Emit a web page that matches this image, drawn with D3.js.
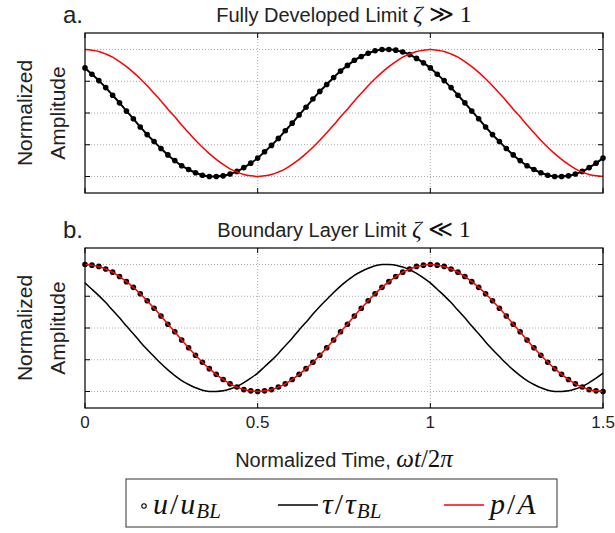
<!DOCTYPE html>
<html>
<head>
<meta charset="utf-8">
<script src="https://cdn.jsdelivr.net/npm/d3@7"></script>
<style>
  body { margin: 0; background: #fff; }
  svg { display: block; }
  .sans { font-family: "Liberation Sans", Arial, Helvetica, sans-serif; fill: #222; }
  .math { font-family: "Liberation Serif", "DejaVu Serif", serif; fill: #111; }
</style>
</head>
<body>
<script>
// time samples, omega t / 2 pi
const timeVals = [0, 0.02, 0.04, 0.06, 0.08, 0.1, 0.12, 0.14, 0.16, 0.18, 0.2, 0.22, 0.24, 0.26, 0.28, 0.3, 0.32, 0.34, 0.36, 0.38,
  0.4, 0.42, 0.44, 0.46, 0.48, 0.5, 0.52, 0.54, 0.56, 0.58, 0.6, 0.62, 0.64, 0.66, 0.68, 0.7, 0.72, 0.74, 0.76, 0.78,
  0.8, 0.82, 0.84, 0.86, 0.88, 0.9, 0.92, 0.94, 0.96, 0.98, 1, 1.02, 1.04, 1.06, 1.08, 1.1, 1.12, 1.14, 1.16, 1.18,
  1.2, 1.22, 1.24, 1.26, 1.28, 1.3, 1.32, 1.34, 1.36, 1.38, 1.4, 1.42, 1.44, 1.46, 1.48, 1.5];

// p/A (red, both panels)
const pressure = [1.00, 0.99, 0.97, 0.93, 0.88, 0.81, 0.73, 0.64, 0.54, 0.43, 0.31, 0.19, 0.06, -0.06, -0.19, -0.31, -0.43, -0.54, -0.64, -0.73,
  -0.81, -0.88, -0.93, -0.97, -0.99, -1.00, -0.99, -0.97, -0.93, -0.88, -0.81, -0.73, -0.64, -0.54, -0.43, -0.31, -0.19, -0.06, 0.06, 0.19,
  0.31, 0.43, 0.54, 0.64, 0.73, 0.81, 0.88, 0.93, 0.97, 0.99, 1.00, 0.99, 0.97, 0.93, 0.88, 0.81, 0.73, 0.64, 0.54, 0.43,
  0.31, 0.19, 0.06, -0.06, -0.19, -0.31, -0.43, -0.54, -0.64, -0.73, -0.81, -0.88, -0.93, -0.97, -0.99, -1.00];

// u/u_BL, fully developed limit (panel a dots)
const velocityFD = [0.71, 0.61, 0.51, 0.40, 0.28, 0.16, 0.03, -0.09, -0.22, -0.34, -0.45, -0.56, -0.66, -0.75, -0.83, -0.89, -0.94, -0.98, -1.00, -1.00,
  -0.99, -0.96, -0.92, -0.86, -0.79, -0.71, -0.61, -0.51, -0.40, -0.28, -0.16, -0.03, 0.09, 0.22, 0.34, 0.45, 0.56, 0.66, 0.75, 0.83,
  0.89, 0.94, 0.98, 1.00, 1.00, 0.99, 0.96, 0.92, 0.86, 0.79, 0.71, 0.61, 0.51, 0.40, 0.28, 0.16, 0.03, -0.09, -0.22, -0.34,
  -0.45, -0.56, -0.66, -0.75, -0.83, -0.89, -0.94, -0.98, -1.00, -1.00, -0.99, -0.96, -0.92, -0.86, -0.79, -0.71];

// u/u_BL, boundary layer limit (panel b dots)
const velocityBL = [1.00, 0.99, 0.97, 0.93, 0.88, 0.81, 0.73, 0.64, 0.54, 0.43, 0.31, 0.19, 0.06, -0.06, -0.19, -0.31, -0.43, -0.54, -0.64, -0.73,
  -0.81, -0.88, -0.93, -0.97, -0.99, -1.00, -0.99, -0.97, -0.93, -0.88, -0.81, -0.73, -0.64, -0.54, -0.43, -0.31, -0.19, -0.06, 0.06, 0.19,
  0.31, 0.43, 0.54, 0.64, 0.73, 0.81, 0.88, 0.93, 0.97, 0.99, 1.00, 0.99, 0.97, 0.93, 0.88, 0.81, 0.73, 0.64, 0.54, 0.43,
  0.31, 0.19, 0.06, -0.06, -0.19, -0.31, -0.43, -0.54, -0.64, -0.73, -0.81, -0.88, -0.93, -0.97, -0.99, -1.00];

// tau/tau_BL, boundary layer limit (panel b black line)
const shearBL = [0.71, 0.61, 0.51, 0.40, 0.28, 0.16, 0.03, -0.09, -0.22, -0.34, -0.45, -0.56, -0.66, -0.75, -0.83, -0.89, -0.94, -0.98, -1.00, -1.00,
  -0.99, -0.96, -0.92, -0.86, -0.79, -0.71, -0.61, -0.51, -0.40, -0.28, -0.16, -0.03, 0.09, 0.22, 0.34, 0.45, 0.56, 0.66, 0.75, 0.83,
  0.89, 0.94, 0.98, 1.00, 1.00, 0.99, 0.96, 0.92, 0.86, 0.79, 0.71, 0.61, 0.51, 0.40, 0.28, 0.16, 0.03, -0.09, -0.22, -0.34,
  -0.45, -0.56, -0.66, -0.75, -0.83, -0.89, -0.94, -0.98, -1.00, -1.00, -0.99, -0.96, -0.92, -0.86, -0.79, -0.71];

const xTicks = [0, 0.5, 1, 1.5];
const xTickLabels = ['0', '0.5', '1', '1.5'];
const yTicks = [-1, -0.5, 0, 0.5, 1];

const width = 615, height = 533;
const plotLeft = 85, plotWidth = 518, plotHeight = 160;

const panels = [
  { tag: 'a.', title: 'Fully Developed Limit ', rel: '\u226B', top: 33, dots: velocityFD, dotLine: true, black: null },
  { tag: 'b.', title: 'Boundary Layer Limit ', rel: '\u226A', top: 248, dots: velocityBL, dotLine: false, black: shearBL }
];

const svg = d3.select('body').append('svg')
  .attr('width', width)
  .attr('height', height);

const x = d3.scaleLinear().domain([0, 1.5]).range([plotLeft, plotLeft + plotWidth]);

panels.forEach(function(p, i) {
  const y = d3.scaleLinear().domain([-1.26, 1.26]).range([p.top + plotHeight, p.top]);
  const g = svg.append('g');
  const pts = series => timeVals.map((t, k) => [t, series[k]]);
  const line = d3.line().x(d => x(d[0])).y(d => y(d[1])).curve(d3.curveCatmullRom);

  // grid
  g.selectAll('.hgrid').data(yTicks).enter().append('line')
    .attr('x1', plotLeft).attr('x2', plotLeft + plotWidth)
    .attr('y1', d => y(d)).attr('y2', d => y(d))
    .attr('stroke', '#aaa').attr('stroke-width', 1).attr('stroke-dasharray', '1,2');
  g.selectAll('.vgrid').data(xTicks.slice(1, -1)).enter().append('line')
    .attr('x1', d => x(d)).attr('x2', d => x(d))
    .attr('y1', p.top).attr('y2', p.top + plotHeight)
    .attr('stroke', '#aaa').attr('stroke-width', 1).attr('stroke-dasharray', '1,2');

  // inward ticks on all four sides
  const tl = 5;
  yTicks.forEach(function(v) {
    g.append('line').attr('x1', plotLeft).attr('x2', plotLeft + tl).attr('y1', y(v)).attr('y2', y(v)).attr('stroke', '#000');
    g.append('line').attr('x1', plotLeft + plotWidth).attr('x2', plotLeft + plotWidth - tl).attr('y1', y(v)).attr('y2', y(v)).attr('stroke', '#000');
  });
  xTicks.forEach(function(v) {
    g.append('line').attr('x1', x(v)).attr('x2', x(v)).attr('y1', p.top + plotHeight).attr('y2', p.top + plotHeight - tl).attr('stroke', '#000');
    g.append('line').attr('x1', x(v)).attr('x2', x(v)).attr('y1', p.top).attr('y2', p.top + tl).attr('stroke', '#000');
  });

  // curves
  if (p.black) {
    g.append('path').datum(pts(p.black)).attr('d', line)
      .attr('fill', 'none').attr('stroke', '#000').attr('stroke-width', 1.5);
  }
  if (p.dotLine) {
    g.append('path').datum(pts(p.dots)).attr('d', line)
      .attr('fill', 'none').attr('stroke', '#000').attr('stroke-width', 2);
  }
  g.selectAll('.dot').data(pts(p.dots)).enter().append('circle')
    .attr('cx', d => x(d[0])).attr('cy', d => y(d[1])).attr('r', 2.8)
    .attr('fill', '#000');
  g.append('path').datum(pts(pressure)).attr('d', line)
    .attr('fill', 'none').attr('stroke', '#f00').attr('stroke-width', 1.5);

  // frame
  g.append('rect').attr('x', plotLeft).attr('y', p.top).attr('width', plotWidth).attr('height', plotHeight)
    .attr('fill', 'none').attr('stroke', '#000').attr('stroke-width', 1.2);

  // panel tag and title
  g.append('text').attr('class', 'sans').attr('x', 63).attr('y', p.top - 10)
    .attr('font-size', 24).text(p.tag);
  const title = g.append('text').attr('class', 'sans').attr('x', plotLeft + plotWidth / 2).attr('y', p.top - 11)
    .attr('text-anchor', 'middle').attr('font-size', 20);
  title.append('tspan').text(p.title);
  title.append('tspan').attr('class', 'math').attr('font-style', 'italic').attr('font-size', 24).text('\u03B6');
  title.append('tspan').attr('class', 'math').attr('font-size', 24).text(' ' + p.rel + ' 1');

  // y label
  const cy = p.top + plotHeight / 2;
  g.append('text').attr('class', 'sans').attr('font-size', 21).attr('text-anchor', 'middle')
    .attr('transform', `translate(32,${cy}) rotate(-90)`).text('Normalized');
  g.append('text').attr('class', 'sans').attr('font-size', 21).attr('text-anchor', 'middle')
    .attr('transform', `translate(65,${cy}) rotate(-90)`).text('Amplitude');

  // x tick labels on lower panel
  if (i === 1) {
    g.selectAll('.xl').data(xTicks).enter().append('text')
      .attr('class', 'sans').attr('font-size', 17)
      .attr('x', d => x(d)).attr('y', 428)
      .attr('text-anchor', (d, k) => k === xTicks.length - 1 ? 'end' : 'middle')
      .attr('dx', (d, k) => k === xTicks.length - 1 ? 12 : 0)
      .text((d, k) => xTickLabels[k]);
  }
});

// x axis label
const xl = svg.append('text').attr('class', 'sans').attr('x', plotLeft + plotWidth / 2).attr('y', 467)
  .attr('text-anchor', 'middle').attr('font-size', 20);
xl.append('tspan').text('Normalized Time, ');
xl.append('tspan').attr('class', 'math').attr('font-size', 25).attr('font-style', 'italic').text('\u03C9t');
xl.append('tspan').attr('class', 'math').attr('font-size', 25).text('/2');
xl.append('tspan').attr('class', 'math').attr('font-size', 25).attr('font-style', 'italic').text('\u03C0');

// legend
const lg = svg.append('g');
lg.append('rect').attr('x', 126).attr('y', 479).attr('width', 431).attr('height', 48)
  .attr('fill', '#fff').attr('stroke', '#333').attr('stroke-width', 1);
const ly = 514;

function mathLabel(xPos, parts) {
  const t = lg.append('text').attr('class', 'math').attr('x', xPos).attr('y', ly).attr('font-size', 30);
  parts.forEach(function(s) {
    const ts = t.append('tspan').text(s.t).attr('dx', s.dx || 0);
    if (s.italic !== false) ts.attr('font-style', 'italic');
    if (s.sub) ts.attr('font-size', 21).attr('dy', 4);
  });
}

lg.append('circle').attr('cx', 144).attr('cy', ly - 8).attr('r', 2.2)
  .attr('fill', 'none').attr('stroke', '#000').attr('stroke-width', 1.1);
mathLabel(153, [{ t: 'u' }, { t: '/', italic: false, dx: 2 }, { t: 'u', dx: 2 }, { t: 'BL', sub: true, dx: 1 }]);

lg.append('line').attr('x1', 278).attr('x2', 318).attr('y1', ly - 9).attr('y2', ly - 9)
  .attr('stroke', '#000').attr('stroke-width', 1.5);
mathLabel(322, [{ t: '\u03C4' }, { t: '/', italic: false, dx: 2 }, { t: '\u03C4', dx: 2 }, { t: 'BL', sub: true, dx: 1 }]);

lg.append('line').attr('x1', 444).attr('x2', 484).attr('y1', ly - 9).attr('y2', ly - 9)
  .attr('stroke', '#f00').attr('stroke-width', 1.5);
mathLabel(490, [{ t: 'p' }, { t: '/', italic: false, dx: 2 }, { t: 'A', dx: 2 }]);
</script>
</body>
</html>
